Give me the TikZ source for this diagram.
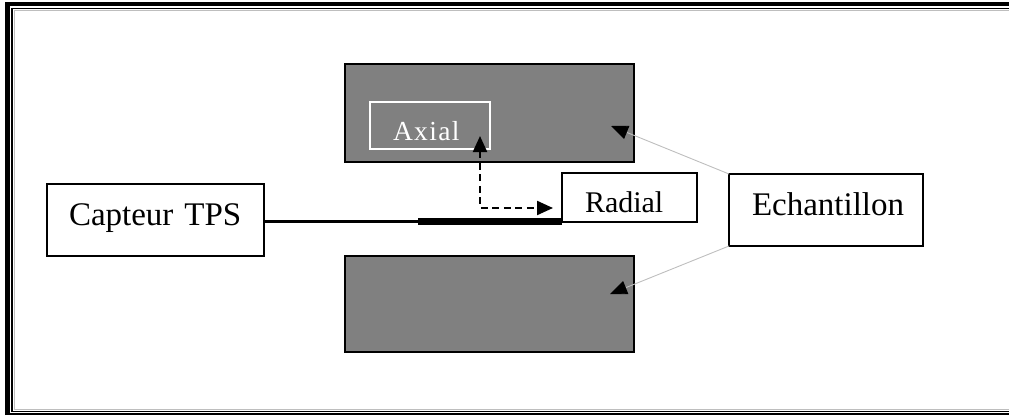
\documentclass[tikz,border=0pt]{standalone}
\usepackage{fontspec}
\setmainfont{Liberation Serif}
\newfontfamily\axialfont[LetterSpace=5]{Liberation Serif}
\usetikzlibrary{arrows.meta}
\definecolor{blockgrey}{RGB}{128,128,128}
\definecolor{leadgrey}{RGB}{190,190,190}
\begin{document}
\begin{tikzpicture}[x=1pt,y=-1pt,
  whitebox/.style={draw=black, line width=2pt, fill=white, inner ysep=0pt, outer sep=0pt, align=left},
  block/.style={draw=black, line width=2pt, fill=blockgrey, inner sep=0pt, outer sep=0pt},
  bigtxt/.style={font=\fontsize{33}{38}\selectfont},
  lead/.style={draw=leadgrey, line width=0.9pt, -{Triangle[length=17pt,width=14pt,color=black,fill=black]}},
  dasharrow/.style={draw=black, line width=2.2pt, dash pattern=on 7pt off 4.5pt,
     {Triangle[length=16pt,width=14pt]}-{Triangle[length=16pt,width=14pt]}}
]
\useasboundingbox (0,0) rectangle (1009,415);
% frame
\draw[line width=4.5pt] (7.5,415) -- (7.5,2);
\draw[line width=4pt] (5.3,4) -- (1009,4);
\draw[line width=2pt] (5.3,413.8) -- (1009,413.8);
\draw[line width=1.5pt] (1009,8.5) -- (12,8.5) -- (12,411.3) -- (1009,411.3);
\draw[line width=1pt, draw=leadgrey] (1009,10.5) -- (14,10.5) -- (14,409) -- (1009,409);

% sample blocks
\node[block, minimum width=289pt, minimum height=98pt] (top) at (489.5,113) {};
\node[block, minimum width=289pt, minimum height=96pt] (bottom) at (489.5,304) {};

% axial box
\node[draw=white, line width=1.4pt, text=white, inner xsep=23pt, inner ysep=0pt, outer sep=0pt,
      minimum width=120pt, minimum height=47pt, text width=74pt, align=left,
      text height=29pt, text depth=0pt, font=\axialfont\fontsize{27.5}{32}\selectfont]
      (axial) at (430,125.5) {Axial};

% sensor
\node[whitebox, bigtxt, inner xsep=22pt, minimum width=217pt, minimum height=72pt,
      text width=173pt, text height=22pt, text depth=12pt] (capteur) at (155.5,220) {Capteur TPS};
\node[whitebox, inner xsep=23pt, minimum width=135pt, minimum height=49pt,
      text width=89pt, text height=29pt, text depth=0pt, font=\fontsize{30}{36}\selectfont]
      (radial) at (629.5,197.5) {Radial};
\node[whitebox, bigtxt, inner xsep=23pt, minimum width=194pt, minimum height=72pt,
      text width=148pt, text height=22pt, text depth=12pt] (echantillon) at (826,210) {Echantillon};

% sensor wire
\coordinate (wirejoin) at (418,221.5);
\draw[line width=3pt] (capteur.east |- 0,221) -- (wirejoin |- 0,221);
\draw[line width=7.5pt] (wirejoin) -- (radial.south west |- wirejoin);

% axial / radial directions
\coordinate (axtip) at (480,136);
\coordinate (radtip) at (553,208);
\draw[dasharrow] (axtip) |- (radtip);

% leads from Echantillon
\coordinate (toptip) at (611,126);
\coordinate (bottip) at (610,294);
\draw[lead] (echantillon.north west) -- (toptip);
\draw[lead] (echantillon.south west) -- (bottip);
\end{tikzpicture}
\end{document}
